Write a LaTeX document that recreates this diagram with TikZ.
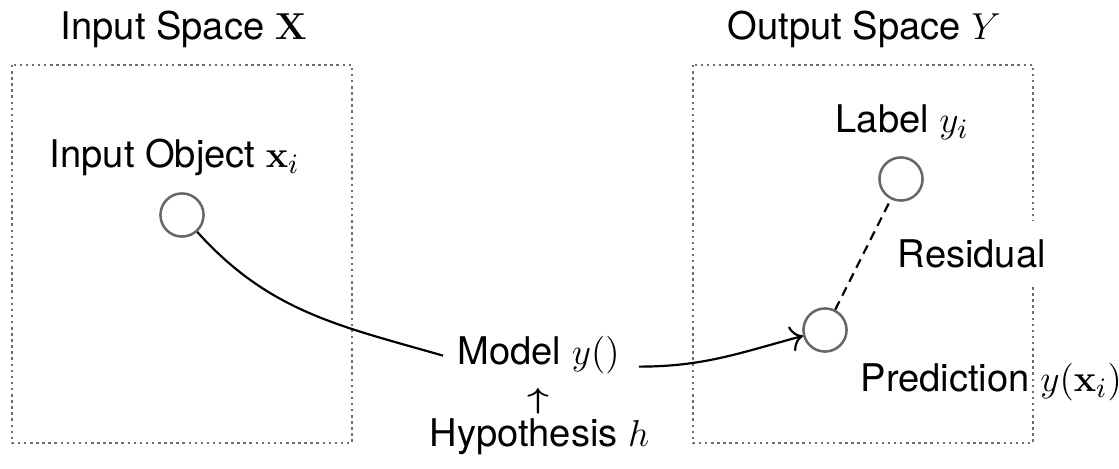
\documentclass[tikz,border=0pt]{standalone}
\usepackage[no-math]{fontspec}
\setmainfont{TeX Gyre Heros}
\usepackage{amsmath,graphicx}
\usetikzlibrary{arrows.meta}
\definecolor{boxgray}{HTML}{6E6E6E}
\definecolor{circgray}{HTML}{666666}
\begin{document}
\begin{tikzpicture}[x=0.32pt,y=-0.32pt,
  every node/.style={font=\fontsize{12.2}{14}\selectfont},
  txt/.style={inner sep=0pt},
  spacebox/.style={draw=boxgray, line width=0.8pt, dash pattern=on 0.8pt off 1.15pt},
  obj/.style={circle, draw=circgray, line width=0.8pt, minimum size=13.8pt, inner sep=0pt},
  conn/.style={line width=0.7pt, black},
  resid/.style={line width=0.7pt, black, dash pattern=on 3pt off 2pt}]
\useasboundingbox (0,0) rectangle (1119,469);
% space boxes
\draw[spacebox] (12,65) rectangle (352,443);
\draw[spacebox] (693,65) rectangle (1033,443);
% titles
\node[txt, anchor=base west] (inspace) at (60,40) {Input Space $\mathbf{X}$};
\node[txt, anchor=base west] (outspace) at (727,40) {Output Space $Y$};
% objects
\node[obj] (xin) at (182,215) {};
\node[obj] (lab) at (901,179) {};
\node[obj] (pred) at (825,330) {};
\node[txt, anchor=base west] (xinlab) at (49,168) {Input Object $\mathbf{x}_i$};
\node[txt, anchor=base west] (lablab) at (835,133) {Label $y_i$};
\node[txt, anchor=base west] (predlab) at (860,392) {Prediction $y(\mathbf{x}_i)$};
\node[anchor=base west, fill=white, inner xsep=2pt, inner ysep=6pt] (res) at (891,268) {Residual};
% model
\node[anchor=base west, inner sep=4.4pt] (model) at (443,365) {Model $y()$};
\node[txt, anchor=center] (up) at (538,401) {\resizebox*{7pt}{8.2pt}{\boldmath$\uparrow$}};
\node[txt, anchor=base west] (hyp) at (429,447) {Hypothesis $h$};
% connectors
\draw[conn] (xin) to[out=-48, in=164] (model.west);
\draw[conn, -{To[scale=1.25]}] ([shift={(5,11)}]model.east) to[out=0, in=195] (pred);
\draw[resid] (pred) -- (lab);
\end{tikzpicture}
\end{document}
